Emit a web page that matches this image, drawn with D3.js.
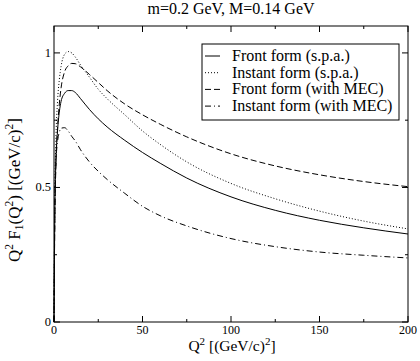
<!DOCTYPE html>
<html>
<head>
<meta charset="utf-8">
<script src="https://cdn.jsdelivr.net/npm/d3@7"></script>
<style>
body { margin: 0; background: #fff; }
svg text { font-family: "Liberation Serif", "DejaVu Serif", serif; fill: #000; }
</style>
</head>
<body>
<div id="chart"></div>
<script>
// Q^2 grid in (GeV/c)^2
let q2 = [0, 0.5, 1, 2, 3, 4, 6, 8, 10, 12, 15, 20, 25, 30, 40, 50, 60, 75, 100, 125, 150, 175, 200];
let frontSpa   = [0, 0.42, 0.58, 0.71, 0.78, 0.82, 0.85, 0.86, 0.86, 0.853, 0.83, 0.79, 0.755, 0.725, 0.675, 0.63, 0.59, 0.535, 0.465, 0.415, 0.378, 0.35, 0.327];
let instantSpa = [0, 0.48, 0.66, 0.82, 0.9, 0.95, 0.995, 1.005, 1.0, 0.985, 0.955, 0.91, 0.865, 0.83, 0.77, 0.71, 0.66, 0.595, 0.515, 0.458, 0.412, 0.375, 0.346];
let frontMec   = [0, 0.4, 0.56, 0.72, 0.81, 0.87, 0.93, 0.952, 0.961, 0.96, 0.948, 0.92, 0.89, 0.86, 0.81, 0.77, 0.735, 0.688, 0.625, 0.58, 0.547, 0.522, 0.503];
let instantMec = [0, 0.45, 0.58, 0.67, 0.705, 0.72, 0.722, 0.71, 0.69, 0.673, 0.64, 0.595, 0.56, 0.53, 0.478, 0.43, 0.395, 0.357, 0.31, 0.28, 0.26, 0.248, 0.238];

let seriesNames = ["Front form (s.p.a.)", "Instant form (s.p.a.)", "Front form (with MEC)", "Instant form (with MEC)"];
let seriesDash = [null, "1,2", "6,3", "6,3,1,3"];
let xTicks = [0, 50, 100, 150, 200];
let yTicks = [0, 0.5, 1];

let width = 420, height = 361;
let margin = {left: 54, right: 12, top: 26, bottom: 39};

let svg = d3.select("#chart").append("svg")
    .attr("width", width).attr("height", height);

let x = d3.scaleLinear().domain([0, 200]).range([margin.left, width - margin.right]);
let y = d3.scaleLinear().domain([0, 1.1]).range([height - margin.bottom, margin.top]);

let all = [frontSpa, instantSpa, frontMec, instantMec];

let line = d3.line()
    .x(function(d) { return x(d[0]); })
    .y(function(d) { return y(d[1]); })
    .curve(d3.curveMonotoneX);

let plot = svg.append("g");
all.forEach(function(vals, i) {
    plot.append("path")
        .attr("d", line(q2.map(function(q, j) { return [q, vals[j]]; })))
        .attr("fill", "none")
        .attr("stroke", "#000")
        .attr("stroke-width", 1)
        .attr("stroke-dasharray", seriesDash[i]);
});

// frame
svg.append("rect")
    .attr("x", x(0)).attr("y", y(1.1))
    .attr("width", x(200) - x(0)).attr("height", y(0) - y(1.1))
    .attr("fill", "none").attr("stroke", "#000").attr("stroke-width", 1);

// ticks, inward on all four sides
let xMinor = d3.range(25, 200, 50);
let yMinor = [0.25, 0.75];
function xt(v, len) {
    svg.append("line").attr("x1", x(v)).attr("x2", x(v)).attr("y1", y(0)).attr("y2", y(0) - len).attr("stroke", "#000");
    svg.append("line").attr("x1", x(v)).attr("x2", x(v)).attr("y1", y(1.1)).attr("y2", y(1.1) + len).attr("stroke", "#000");
}
function yt(v, len) {
    svg.append("line").attr("y1", y(v)).attr("y2", y(v)).attr("x1", x(0)).attr("x2", x(0) + len).attr("stroke", "#000");
    svg.append("line").attr("y1", y(v)).attr("y2", y(v)).attr("x1", x(200)).attr("x2", x(200) - len).attr("stroke", "#000");
}
xTicks.forEach(function(v) { xt(v, 6); });
xMinor.forEach(function(v) { xt(v, 3); });
yTicks.forEach(function(v) { yt(v, 6); });
yMinor.forEach(function(v) { yt(v, 3); });

svg.selectAll(".xl").data(xTicks).enter().append("text")
    .attr("x", function(d) { return x(d); })
    .attr("y", y(0) + 12)
    .attr("text-anchor", "middle")
    .attr("font-size", 12)
    .text(function(d) { return d; });

svg.selectAll(".yl").data(yTicks).enter().append("text")
    .attr("x", x(0) - 3)
    .attr("y", function(d) { return y(d) + 4; })
    .attr("text-anchor", "end")
    .attr("font-size", 12.5)
    .text(function(d) { return d; });

// title
svg.append("text")
    .attr("x", 231).attr("y", 14)
    .attr("text-anchor", "middle")
    .attr("font-size", 16)
    .text("m=0.2 GeV, M=0.14 GeV");

// x axis label
let xl = svg.append("text")
    .attr("x", 232).attr("y", 351)
    .attr("text-anchor", "middle")
    .attr("font-size", 15.5);
xl.append("tspan").text("Q");
xl.append("tspan").attr("dy", -6).attr("font-size", 11).text("2");
xl.append("tspan").attr("dy", 6).text(" [(GeV/c)");
xl.append("tspan").attr("dy", -6).attr("font-size", 11).text("2");
xl.append("tspan").attr("dy", 6).text("]");

// y axis label
let yl = svg.append("text")
    .attr("transform", "translate(20,190) rotate(-90)")
    .attr("text-anchor", "middle")
    .attr("font-size", 17);
yl.append("tspan").text("Q");
yl.append("tspan").attr("dy", -7).attr("font-size", 11.5).text("2");
yl.append("tspan").attr("dy", 7).text(" F");
yl.append("tspan").attr("dy", 3).attr("font-size", 11.5).text("1");
yl.append("tspan").attr("dy", -3).text("(Q");
yl.append("tspan").attr("dy", -7).attr("font-size", 11.5).text("2");
yl.append("tspan").attr("dy", 7).text(") [(GeV/c)");
yl.append("tspan").attr("dy", -7).attr("font-size", 11.5).text("2");
yl.append("tspan").attr("dy", 7).text("]");

// legend
let legend = svg.append("g");
legend.append("rect")
    .attr("x", 202).attr("y", 44).attr("width", 197).attr("height", 76)
    .attr("fill", "#fff").attr("stroke", "#000").attr("stroke-width", 1);
seriesNames.forEach(function(name, i) {
    let ly = 56 + i * 16.7;
    legend.append("line")
        .attr("x1", 205).attr("x2", 220).attr("y1", ly).attr("y2", ly)
        .attr("stroke", "#000").attr("stroke-dasharray", seriesDash[i]);
    legend.append("text")
        .attr("x", 232).attr("y", ly + 5)
        .attr("font-size", 16)
        .text(name);
});
</script>
</body>
</html>
